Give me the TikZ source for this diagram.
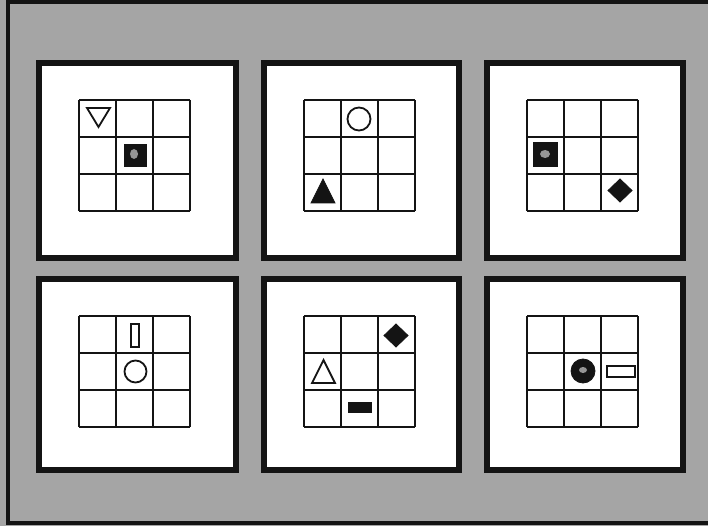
\documentclass[tikz,border=0pt]{standalone}
\usetikzlibrary{calc}
\definecolor{bgcol}{RGB}{165,165,165}
\definecolor{ink}{RGB}{20,20,20}
\definecolor{speck}{RGB}{150,150,150}
\tikzset{
  panelbox/.style={draw=ink, line width=6pt, fill=white},
  gridline/.style={draw=ink, line width=1.8pt},
  openshape/.style={draw=ink, line width=1.8pt, line join=miter},
  solidshape/.style={fill=ink, draw=ink, line width=0.8pt},
  speckle/.style={fill=speck},
}
\begin{document}
\begin{tikzpicture}[x=1pt,y=-1pt]
\useasboundingbox (0,0) rectangle (708,526);
\fill[bgcol] (0,0) rectangle (708,526);
% outer frame (right side open)
\draw[ink, line width=4pt] (710,2) -- (7.5,2) -- (7.5,523) -- (710,523);
% panels
\foreach \xa/\xb in {39/236, 264/459, 487/683}{
  \foreach \ya/\yb in {63/258, 279/470}{
    \draw[panelbox] (\xa,\ya) rectangle (\xb,\yb);
  }
}
% grids
\foreach \gx in {79, 304, 527}{
  \foreach \gy in {100, 316}{
    \foreach \k in {0,1,2,3}{
      \draw[gridline] ($(\gx,\gy)+(37*\k,0)$) -- ($(\gx,\gy)+(37*\k,111)$);
      \draw[gridline] ($(\gx,\gy)+(0,37*\k)$) -- ($(\gx,\gy)+(111,37*\k)$);
    }
  }
}
% panel 1
\draw[openshape] (87,108) -- (110,108) -- (98.5,127) -- cycle;
\fill[solidshape] (124,144) rectangle (146,166);
\fill[speckle] (134,154) ellipse[x radius=4, y radius=5];
% panel 2
\draw[openshape] (359,119) circle[radius=11.5];
\fill[solidshape] (311,203) -- (335,203) -- (323,179) -- cycle;
% panel 3
\fill[solidshape] (533,142) rectangle (557,166);
\fill[speckle] (545,154) ellipse[x radius=5, y radius=4];
\fill[solidshape] (620,179) -- (632,190.5) -- (620,202) -- (608,190.5) -- cycle;
% panel 4
\draw[openshape] (131,324) rectangle (139,347);
\draw[openshape] (135.5,371.5) circle[radius=11];
% panel 5
\fill[solidshape] (396,324) -- (408,335.5) -- (396,347) -- (384,335.5) -- cycle;
\draw[openshape] (312,383) -- (335,383) -- (323.5,360) -- cycle;
\fill[solidshape] (348,402) rectangle (371,412);
% panel 6
\fill[solidshape] (583,371) circle[radius=12];
\fill[speckle] (583,370) ellipse[x radius=4, y radius=3];
\draw[openshape] (607,366) rectangle (635,377);
\end{tikzpicture}
\end{document}
